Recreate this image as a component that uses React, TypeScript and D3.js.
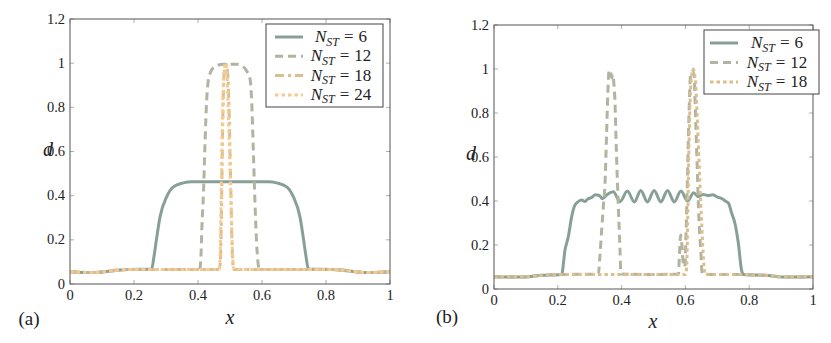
import React from "react";
import * as d3 from "d3";

const xTicks = [0, 0.2, 0.4, 0.6, 0.8, 1];
const xTickLabels = ["0", "0.2", "0.4", "0.6", "0.8", "1"];
const yTicks = [0, 0.2, 0.4, 0.6, 0.8, 1, 1.2];
const yTickLabels = ["0", "0.2", "0.4", "0.6", "0.8", "1", "1.2"];

// Panel (a)
const a6: [number, number][] = [[0,0.056],[0.07,0.052],[0.18,0.066],[0.255,0.067],[0.262,0.12],[0.27,0.2],[0.2815,0.305],[0.302,0.395],[0.323,0.44],[0.354,0.458],[0.38,0.463],[0.5,0.463],[0.62,0.463],[0.646,0.458],[0.677,0.44],[0.698,0.395],[0.7185,0.305],[0.73,0.2],[0.738,0.12],[0.745,0.067],[0.82,0.066],[0.93,0.052],[1,0.056]];
const a12: [number, number][] = [[0,0.056],[0.07,0.052],[0.18,0.066],[0.3,0.066],[0.405,0.066],[0.409,0.12],[0.412,0.25],[0.417,0.41],[0.422,0.64],[0.427,0.83],[0.432,0.92],[0.438,0.955],[0.447,0.978],[0.46,0.99],[0.48,0.995],[0.52,0.995],[0.54,0.985],[0.552,0.965],[0.5625,0.93],[0.568,0.82],[0.573,0.6],[0.578,0.37],[0.583,0.19],[0.588,0.09],[0.592,0.066],[0.7,0.066],[0.82,0.066],[0.93,0.052],[1,0.056]];
const a18: [number, number][] = [[0,0.056],[0.07,0.052],[0.18,0.066],[0.3,0.066],[0.466,0.066],[0.47,0.1],[0.473,0.3],[0.476,0.6],[0.479,0.85],[0.483,0.97],[0.488,0.995],[0.493,0.95],[0.497,0.8],[0.5,0.6],[0.503,0.4],[0.506,0.2],[0.509,0.09],[0.512,0.066],[0.7,0.066],[0.82,0.066],[0.93,0.052],[1,0.056]];
const a24: [number, number][] = [[0,0.056],[0.07,0.052],[0.18,0.066],[0.3,0.066],[0.466,0.066],[0.469,0.12],[0.472,0.35],[0.475,0.65],[0.478,0.85],[0.482,0.97],[0.486,1.0],[0.49,0.96],[0.494,0.82],[0.498,0.62],[0.502,0.42],[0.506,0.22],[0.51,0.09],[0.513,0.066],[0.7,0.066],[0.82,0.066],[0.93,0.052],[1,0.056]];

// Panel (b)
const b6: [number, number][] = [[0,0.056],[0.08,0.054],[0.15,0.062],[0.212,0.066],[0.2226,0.177],[0.233,0.238],[0.2435,0.329],[0.254,0.382],[0.264,0.397],[0.275,0.405],[0.285,0.398],[0.295,0.41],[0.305,0.415],[0.318,0.428],[0.33,0.425],[0.34,0.41],[0.355,0.43],[0.374,0.442],[0.395,0.398],[0.418,0.445],[0.44,0.396],[0.46,0.448],[0.481,0.396],[0.502,0.448],[0.523,0.396],[0.544,0.448],[0.565,0.396],[0.586,0.445],[0.607,0.4],[0.626,0.438],[0.64,0.42],[0.655,0.43],[0.67,0.425],[0.685,0.428],[0.7,0.418],[0.715,0.41],[0.725,0.4],[0.735,0.39],[0.745,0.345],[0.755,0.3],[0.766,0.208],[0.776,0.086],[0.782,0.066],[0.85,0.062],[0.92,0.054],[1,0.056]];
const b12: [number, number][] = [[0,0.056],[0.08,0.054],[0.15,0.062],[0.212,0.066],[0.327,0.068],[0.332,0.15],[0.3375,0.268],[0.343,0.38],[0.348,0.48],[0.353,0.708],[0.358,0.935],[0.361,0.995],[0.366,0.985],[0.369,0.96],[0.372,0.975],[0.376,0.93],[0.379,0.86],[0.3835,0.632],[0.389,0.405],[0.395,0.177],[0.398,0.068],[0.5,0.066],[0.578,0.068],[0.582,0.18],[0.585,0.245],[0.589,0.2],[0.593,0.12],[0.598,0.1],[0.602,0.25],[0.606,0.48],[0.611,0.78],[0.616,0.97],[0.622,0.99],[0.627,0.97],[0.632,0.78],[0.637,0.556],[0.642,0.33],[0.648,0.18],[0.653,0.068],[0.7,0.066],[0.78,0.066],[0.85,0.062],[0.92,0.054],[1,0.056]];
const b18: [number, number][] = [[0,0.056],[0.08,0.054],[0.15,0.062],[0.212,0.066],[0.4,0.066],[0.6,0.066],[0.604,0.1],[0.607,0.3],[0.612,0.7],[0.618,0.95],[0.625,1.0],[0.632,0.93],[0.638,0.75],[0.645,0.5],[0.651,0.3],[0.657,0.13],[0.662,0.066],[0.78,0.066],[0.85,0.062],[0.92,0.054],[1,0.056]];

const labelsA = ["6", "12", "18", "24"];
const labelsB = ["6", "12", "18"];

const C6 = "#87a096";
const C12 = "#b2b3a0";
const C18 = "#d8be90";
const C24 = "#f7c98f";
const C18b = "#dcbf8c";

type Series = { data: [number, number][]; color: string; dash: string; label: string };

const seriesA: Series[] = [
  { data: a6, color: C6, dash: "none", label: labelsA[0] },
  { data: a12, color: C12, dash: "8,5", label: labelsA[1] },
  { data: a18, color: C18, dash: "9,4,3,4", label: labelsA[2] },
  { data: a24, color: C24, dash: "3.5,3", label: labelsA[3] },
];
const seriesB: Series[] = [
  { data: b6, color: C6, dash: "none", label: labelsB[0] },
  { data: b12, color: C12, dash: "8,5", label: labelsB[1] },
  { data: b18, color: C18b, dash: "3.5,3", label: labelsB[2] },
];

const txt = { fontFamily: '"Liberation Serif"' };

function Panel(props: {
  x0: number; x1: number; y0: number; y1: number; series: Series[];
  legend: { x: number; y: number; w: number; h: number; lx: number; tx: number; step: number };
  dLabel: [number, number]; xLabel: [number, number]; tag: [number, number, string];
}) {
  const { x0, x1, y0, y1, series, legend } = props;
  const xs = d3.scaleLinear().domain([0, 1]).range([x0, x1]);
  const ys = d3.scaleLinear().domain([0, 1.2]).range([y1, y0]);
  const line = d3.line<[number, number]>().x(d => xs(d[0])).y(d => ys(d[1])).curve(d3.curveMonotoneX);
  const tl = 4;
  return (
    <g>
      {xTicks.map((t, i) => (
        <g key={"xt" + i}>
          <line x1={xs(t)} x2={xs(t)} y1={y1} y2={y1 - tl} stroke="#999" strokeWidth={0.8} />
          <line x1={xs(t)} x2={xs(t)} y1={y0} y2={y0 + tl} stroke="#999" strokeWidth={0.8} />
          <text x={xs(t)} y={y1 + 16} textAnchor="middle" style={txt} fontSize={14.5} fill="#222">{xTickLabels[i]}</text>
        </g>
      ))}
      {yTicks.map((t, i) => (
        <g key={"yt" + i}>
          <line x1={x0} x2={x0 + tl} y1={ys(t)} y2={ys(t)} stroke="#999" strokeWidth={0.8} />
          <line x1={x1} x2={x1 - tl} y1={ys(t)} y2={ys(t)} stroke="#999" strokeWidth={0.8} />
          <text x={x0 - 5} y={ys(t) + 4.5} textAnchor="end" style={txt} fontSize={14.5} fill="#222">{yTickLabels[i]}</text>
        </g>
      ))}
      {series.map((s, i) => (
        <path key={"s" + i} d={line(s.data) || ""} fill="none" stroke={s.color} strokeWidth={3}
          strokeDasharray={s.dash} strokeLinejoin="round" />
      ))}
      <rect x={x0} y={y0} width={x1 - x0} height={y1 - y0} fill="none" stroke="#555" strokeWidth={1} />
      <rect x={legend.x} y={legend.y} width={legend.w} height={legend.h} fill="white" stroke="#444" strokeWidth={1} />
      {series.map((s, i) => {
        const cy = legend.y + 13 + i * legend.step;
        return (
          <g key={"l" + i}>
            <line x1={legend.lx} x2={legend.lx + 28} y1={cy} y2={cy} stroke={s.color} strokeWidth={3} strokeDasharray={s.dash} />
            <text x={legend.tx} y={cy + 5} textAnchor="middle" style={txt} fontSize={17} fill="#222">
              <tspan fontStyle="italic">N</tspan>
              <tspan fontStyle="italic" fontSize={12} dy={3.5}>ST</tspan>
              <tspan dy={-3.5} dx={5}>=</tspan>
              <tspan dx={5}>{s.label}</tspan>
            </text>
          </g>
        );
      })}
      <text x={props.dLabel[0]} y={props.dLabel[1]} style={txt} fontStyle="italic" fontSize={20} textAnchor="middle" fill="#222">d</text>
      <text x={props.xLabel[0]} y={props.xLabel[1]} style={txt} fontStyle="italic" fontSize={20} textAnchor="middle" fill="#222">x</text>
      <text x={props.tag[0]} y={props.tag[1]} style={txt} fontSize={19} textAnchor="middle" fill="#222">{props.tag[2]}</text>
    </g>
  );
}

export default function App() {
  return (
    <svg width={831} height={343} style={{ position: "absolute", left: 0, top: 0, background: "white" }}>
      <Panel x0={70} x1={390} y0={19} y1={284} series={seriesA}
        legend={{ x: 266, y: 24, w: 117, h: 83, lx: 275, tx: 341, step: 19.3 }}
        dLabel={[48, 156]} xLabel={[230, 324]} tag={[29, 325, "(a)"]} />
      <Panel x0={494} x1={813} y0={25} y1={289} series={seriesB}
        legend={{ x: 704, y: 30, w: 115, h: 64, lx: 710, tx: 777, step: 19.5 }}
        dLabel={[471, 160]} xLabel={[653, 328]} tag={[447, 323, "(b)"]} />
    </svg>
  );
}
